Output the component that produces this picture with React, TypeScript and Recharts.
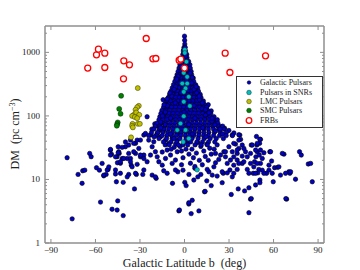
import React from 'react';
import { ScatterChart, Scatter, XAxis, YAxis, Legend, Label } from 'recharts';

// ---- data ----

const X_TICKS = [-90, -60, -30, 0, 30, 60, 90];
const Y_TICKS = [1, 10, 100, 1000];
const Y_MINOR = [2, 3, 4, 5, 6, 7, 8, 9, 20, 30, 40, 50, 60, 70, 80, 90, 200, 300, 400, 500, 600, 700, 800, 900, 2000];

// dense cone of pulsars around the plane: [dm, latitudes at that dm]
const CONE_ROWS: [number, number[]][] = [
  [1800, [0]],
  [1550, [0.1]],
  [1350, [0.2]],
  [1200, [-0.3, 0.5]],
  [1050, [-0.8, 0.7]],
  [930, [-1.1, 0.3, 1.5]],
  [820, [-1.7, 0, 1.7]],
  [720, [-2.5, -0.7, 1.1, 2.8]],
  [640, [-3.1, -1.3, 0.5, 2.3, 3.6]],
  [565, [-3.7, -1.8, 0.2, 2.1, 3.9]],
  [500, [-4.3, -2.4, -0.5, 1.4, 3.2, 4.5]],
  [445, [-5, -3, -1, 0.9, 2.8, 4.8]],
  [395, [-5.8, -3.7, -1.7, 0.3, 2.3, 4.2, 5.9]],
  [350, [-6.5, -4.3, -2.1, 0, 2.1, 4.1, 6.2]],
  [310, [-7.4, -5.1, -2.8, -0.6, 1.5, 3.6, 5.6, 7.5]],
  [275, [-8.3, -5.9, -3.5, -1.2, 1, 3.2, 5.4, 7.6, 8.9]],
  [245, [-9.1, -6.8, -4.4, -2, 0.4, 2.7, 5, 7.3, 9.4]],
  [218, [-10, -7.6, -5.1, -2.7, -0.2, 2.2, 4.6, 7, 9.3, 10.6]],
  [195, [-10.9, -8.4, -5.9, -3.4, -1, 1.5, 4, 6.4, 8.8, 11.1]],
  [172, [-12, -9.4, -6.8, -4.2, -1.7, 0.8, 3.3, 5.8, 8.3, 10.8, 12.7]],
  [153, [-13.1, -10.4, -7.7, -5, -2.4, 0.2, 2.8, 5.4, 8, 10.6, 13.3]],
  [137, [-14.1, -11.4, -8.7, -6, -3.2, -0.5, 2.2, 4.9, 7.6, 10.3, 13, 15]],
  [122, [-15.2, -12.4, -9.6, -6.8, -4, -1.2, 1.6, 4.4, 7.2, 10, 12.8, 15.6]],
  [109, [-15.9, -13.1, -10.3, -7.5, -4.7, -1.9, 1, 3.8, 6.6, 9.4, 12.2, 15, 17.7]],
  [97, [-16.6, -13.8, -11, -8.2, -5.4, -2.6, 0.3, 3.1, 5.9, 8.7, 11.5, 14.3, 17.1, 19.9]],
  [87, [-17.2, -14.3, -11.5, -8.7, -5.9, -3.1, -0.2, 2.6, 5.4, 8.2, 11, 13.8, 16.6, 19.4, 22.1]],
  [77, [-18.6, -15.5, -12.5, -9.6, -6.7, -3.8, -0.9, 2.1, 5, 7.9, 10.8, 13.7, 16.6, 19.5, 22.5]],
  [69, [-19.8, -16.5, -13.3, -10.1, -7.1, -4.1, -1.3, 1.6, 4.5, 7.4, 10.3, 13.2, 16.1, 19.1, 22.6, 25.7]],
  [62, [-20.6, -17.1, -13.9, -10.7, -7.7, -4.7, -1.8, 1.2, 4.1, 7.1, 10.1, 13.1, 16.1, 19.5, 23.1, 26.6]],
  [55, [-22.2, -18.1, -14.6, -11.3, -8.1, -5.1, -2.2, 0.8, 3.7, 6.7, 9.9, 13.1, 16.4, 20.1, 24.1, 28.2]],
  [49, [-24.2, -19.2, -15.1, -11.9, -8.7, -5.6, -2.6, 0.5, 3.4, 6.3, 9.6, 12.8, 16.1, 19.6, 23.6, 28.1, 32.3]],
  [44, [-17.2, -12.1, -7.1, -3.1, 1.1, 5.1, 9.2, 13.2, 17.3, 21.4, 26.2]],
  [39, [-14.2, -9.1, -5.2, 0.1, 4.2, 8.3, 12.1, 16.2, 20.4]],
  [35, [-10.3, -4.1, 2.2, 7.1, 11.3, 15.4]],
];

// extra pulsars filling gaps inside the cone: [b, dm]
const CONE_FILL: [number, number][] = [
  [-0.4, 1120], [0.9, 870], [-0.9, 770], [2, 680], [-2.2, 600], [1.1, 530], [-1.3, 470], [3.8, 470],
  [-4.4, 420], [1.5, 370], [-3, 330], [4.9, 330], [-6, 290], [0.3, 290], [6.5, 260], [-2.4, 230],
  [8.3, 230], [-8.6, 205], [3, 205], [10.2, 180], [-6.3, 160], [-11.5, 145], [6.4, 145], [11.8, 130],
  [-12.9, 115], [-0.3, 115], [14.2, 103], [-9.4, 92], [7, 92], [18.5, 82], [-13, 73], [2.8, 73],
  [-16, 65], [12.3, 65], [21, 58], [-9.5, 52], [5.2, 52], [25.5, 52], [-20.5, 47], [14.5, 47],
  [-5.2, 380], [5.3, 400], [-7, 260], [7.9, 290], [-9.8, 230], [9.9, 205], [-11.6, 185], [12, 160],
  [-13.8, 150], [14.2, 125], [16.5, 112], [-14.9, 100], [18.6, 92], [-16, 80], [20.5, 72], [24, 62],
];

// scattered galactic pulsars: [b, dm]
const FIELD_PULSARS: [number, number][] = [
  [-79.1, 22], [-75.7, 2.4], [-71.7, 12], [-68.6, 13.7], [-67.2, 14], [-69, 8.7], [-63.9, 25.7], [-62.9, 22.8],
  [-59.3, 15.3], [-57.3, 14], [-54.4, 11.4], [-52.8, 12], [-51.5, 14.4], [-49.9, 29], [-49.2, 25], [-56.6, 4.4],
  [-48.8, 3.4], [-45.4, 3.3], [-45, 4.6], [-41.3, 2.7], [-45.9, 9.2], [-41.3, 9], [-46.5, 12.2], [-45.2, 18.3],
  [-43.2, 18], [-42, 21.4], [-45.4, 22.8], [-44, 25.7], [-44.7, 32.7], [-33.7, 7.1], [-37.6, 12], [-32.4, 12],
  [-28.1, 12], [-35.9, 16.8], [-31.9, 17.3], [-29.7, 22.7], [-27.4, 24.2], [-33, 25.7], [-38.6, 21.4], [-36.4, 21.4],
  [-19.1, 10.4], [-14, 13.7], [-11.7, 12.5], [-8.1, 8.7], [-4.5, 13.2], [-3.8, 3.2], [2.9, 4.1], [5.2, 4.7],
  [9.7, 3.2], [6.3, 9.8], [0.2, 9], [1.1, 8], [4.5, 2.9], [13.5, 6.4], [25.4, 8.9], [31.5, 5.8], [36.2, 7.1],
  [40.5, 6.6], [43.4, 7.4], [44.5, 4.9], [47.9, 8.2], [50.8, 9.8], [50.8, 8.9], [43.4, 3.0], [68.8, 4.9],
  [74.8, 10.1], [86.1, 9.2], [77.5, 27.3], [78.7, 24.2], [83.4, 17.5], [85, 17.9], [67, 25], [70.3, 13.2],
  [71, 12.5], [60.7, 15.3], [62.7, 15.5], [59.8, 9.2], [55.3, 12.5], [56.9, 14], [58.7, 19.5], [51.2, 42.7],
  [50.6, 37], [48.8, 34.8], [45, 34.8], [49, 27.3], [51.2, 29], [48.1, 22.7], [50.4, 24.2], [53.5, 26.3],
  [57.5, 27.3], [47.2, 19], [51.2, 17.9], [44.5, 17.9], [50.1, 14.4], [49.4, 12.7], [53.5, 12.5], [46.3, 12.5],
  [37.3, 49.9], [37.8, 42.7], [38.9, 34.8], [34.4, 36], [36.6, 30.8], [41.1, 27.3], [35.5, 25.7], [38.9, 23.3],
  [33.2, 22.7], [35.5, 20.2], [38.9, 17.9], [33.2, 16.8], [35.5, 14.4], [30.6, 14.1], [28.8, 17.9], [31, 20.2],
  [27.6, 22.7], [26.5, 27.3], [24.3, 24.2], [23.1, 20.7], [20.9, 18.3], [19.8, 15.8], [26.1, 12.5], [28.8, 12.7],
  [32.2, 11], [22, 11.3], [18.7, 11.7], [16.4, 13.2], [32.2, 50], [36.6, 41.6], [33.2, 37], [29.9, 32.7],
  [40, 30.8], [35.5, 29], [32.2, 27.3], [27.6, 27.3], [20.9, 25.7], [15.3, 14.4], [25.4, 13.2], [33.2, 12.5],
  [36.6, 17.9], [40, 19], [42.3, 22.7], [44.5, 25.7], [45.7, 34.8], [49, 37], [47.9, 29], [52.4, 21.4],
  [49, 17.9], [46.7, 15.8], [42.3, 14.4], [43.4, 12.5], [47.9, 12.5], [52.4, 14], [56.9, 16.8], [58, 27.3],
  [63.6, 15.8], [65.9, 25.7], [64.7, 11.7], [59.1, 12.5], [68.1, 12.5], [71.5, 13.2], [36.6, 50.5], [50.8, 43],
  [48.5, 47.5], [-55.5, 17.9], [-52.1, 14.1], [-54.4, 11.7], [-51, 15.8], [-49.9, 24.2], [-46.5, 22.7],
  [-44.3, 27.3], [-43.2, 19], [-40.9, 21.4], [-39.8, 32.7], [-37.6, 34.8], [-37.6, 25.7], [-36.4, 19],
  [-35.3, 15.8], [-34.2, 27.3], [-33, 37], [-31.9, 41.6], [-30.8, 30.8], [-29.7, 24.2], [-27.4, 21.4],
  [-25.2, 19], [-27.4, 14.1], [-22.9, 24.2], [-21.8, 32.7], [-20.7, 39.2], [-24.1, 41.6], [-19.6, 27.3],
  [-18.4, 22.7], [-17.3, 19], [-15, 16.8], [-12.8, 21.4], [-11.7, 29], [-10.6, 37], [-9.4, 24.2], [-8.3, 17.9],
  [-6.1, 20.2], [-4.9, 27.3], [-29.7, 41.6], [-27.4, 50], [-26.3, 53], [-22.9, 50], [-18.4, 53], [-16.2, 47],
  [-14, 60], [-12.8, 41.6], [-8.3, 44], [-4.9, 41.6], [-3.8, 53], [-21.8, 11.7], [-19.6, 11], [-6.1, 14.1],
  [-33, 12.5], [-38.6, 11], [-46.5, 14.1], [-43.2, 12.5], [-49.9, 29.7], [-44.7, 26.3], [-42, 32], [-39.8, 39],
  [-36.4, 41.6], [-34.2, 37], [-25.2, 97], [5, 30], [8, 26], [11, 33], [13, 28], [15, 36], [17, 31], [9, 38],
  [6, 22], [10, 20], [14, 23], [18, 25], [12, 17], [4, 18], [7, 15], [16, 20], [20, 30], [22, 35], [3, 25],
  [1, 30], [-1, 22], [-3, 33], [2, 38], [-2, 28], [-2, 17], [-7, 32], [-9, 30], [-13, 35], [-15, 27], [-6, 36],
  [-1, 35], [7, 16], [11, 12], [3, 12], [-1, 14], [9, 11], [15, 9.5], [18, 8], [-3.4, 3.3], [2.9, 4.3],
  [13.9, 6.5], [45, 5], [68.3, 5], [-18.4, 70], [-16.6, 60], [-14.4, 180], [-20, 75], [-22, 62], [24.3, 68],
  [29.9, 59], [33.3, 54], [27, 64], [21, 85], [18, 120], [16, 150],
];

const SNR_PULSARS: [number, number][] = [
  [0.2, 1100], [0.2, 982], [1.3, 710], [-0.5, 476], [1.8, 412], [-1.5, 324], [0.7, 271], [1.8, 324], [-0.5, 239],
  [2.9, 200], [-0.5, 167], [3.6, 143], [-0.5, 99], [-2.7, 76], [-4.9, 60], [0.7, 60], [2.9, 44], [-0.9, 39],
  [8.5, 14.2],
];

const LMC_PULSARS: [number, number][] = [
  [-31.5, 274], [-30.8, 144], [-31.9, 137], [-33, 125], [-34.2, 104], [-35.3, 100], [-32.5, 113], [-30.5, 104],
  [-33.5, 96], [-31.9, 92], [-35, 75], [-35.3, 70], [-34.8, 66], [-31.5, 75], [-30.1, 75], [-36, 46],
];

const SMC_PULSARS: [number, number][] = [
  [-42.7, 207], [-44, 129], [-43.1, 108], [-45, 79], [-45.4, 74], [-45.6, 70],
];

const FRBS: [number, number][] = [
  [-65.2, 565], [-59.3, 915], [-58, 1122], [-53.7, 971], [-53.7, 578], [-40.9, 736], [-37.1, 637], [-41.1, 384],
  [-25.8, 1652], [-21.3, 791], [-19.3, 801], [-3.6, 754], [-2.5, 782], [0, 565], [27.4, 971], [30.6, 482],
  [54.6, 882],
];

// ---- helpers ----

const toPoints = (list: [number, number][]) => list.map(([b, dm]) => ({ b, dm }));

const galactic = [
  ...toPoints(FIELD_PULSARS),
  ...CONE_ROWS.flatMap(([dm, bs]) => bs.map((b) => ({ b, dm }))),
  ...toPoints(CONE_FILL),
];

const AXIS_GRAY = '#8f8f8f';
const SERIF = '"Liberation Serif", "DejaVu Serif", serif';

const fmt = (v: number) => (v < 0 ? `\u2212${-v}` : `${v}`);

const dot = (r: number, fill: string, stroke: string, sw: number) => (p: any) =>
  <circle cx={p.cx} cy={p.cy} r={r} fill={fill} stroke={stroke} strokeWidth={sw} />;

function BottomTick({ x, y, payload }: any) {
  return (
    <g>
      <line x1={x} x2={x} y1={y} y2={y - 4} stroke={AXIS_GRAY} />
      <text x={x} y={y + 9.5} textAnchor="middle" fontSize={9} fill="#222" fontFamily={SERIF}>
        {fmt(payload.value)}
      </text>
    </g>
  );
}

function TopTick({ x, y }: any) {
  return <line x1={x} x2={x} y1={y} y2={y + 4} stroke={AXIS_GRAY} />;
}

function LeftTick({ x, y, payload }: any) {
  const major = Y_TICKS.includes(payload.value);
  const ax = x + 5;
  return (
    <g>
      <line x1={ax} x2={ax + (major ? 4 : 2)} y1={y} y2={y} stroke={AXIS_GRAY} />
      {major && (
        <text x={x} y={y + 3} textAnchor="end" fontSize={9} fill="#222" fontFamily={SERIF}>
          {payload.value}
        </text>
      )}
    </g>
  );
}

function RightTick({ x, y, payload }: any) {
  const major = Y_TICKS.includes(payload.value);
  return <line x1={x} x2={x - (major ? 4 : 2)} y1={y} y2={y} stroke={AXIS_GRAY} />;
}

const LEGEND_ITEMS = [
  { label: 'Galactic Pulsars', r: 1.8, fill: '#0000c8', stroke: '#000000' },
  { label: 'Pulsars in SNRs', r: 2.3, fill: '#00bfbf', stroke: '#003333' },
  { label: 'LMC Pulsars', r: 2.3, fill: '#bfbf00', stroke: '#333300' },
  { label: 'SMC Pulsars', r: 2.3, fill: '#008000', stroke: '#002200' },
  { label: 'FRBs', r: 2.8, fill: '#fff', stroke: '#ff0000' },
];

function LegendBox() {
  return (
    <div
      style={{
        width: 87,
        height: 52,
        boxSizing: 'border-box',
        border: '1px solid #333',
        background: '#fff',
        paddingTop: 1,
        fontFamily: SERIF,
        fontSize: 8,
        color: '#222',
      }}
    >
      {LEGEND_ITEMS.map((it) => (
        <div key={it.label} style={{ display: 'flex', alignItems: 'center', height: 9.4 }}>
          <svg width={23} height={9} style={{ flex: 'none' }}>
            <circle cx={12} cy={4.5} r={it.r} fill={it.fill} stroke={it.stroke} strokeWidth={it.label === 'FRBs' ? 1.3 : 0.5} />
          </svg>
          <span style={{ whiteSpace: 'nowrap', lineHeight: '9px' }}>{it.label}</span>
        </div>
      ))}
    </div>
  );
}

export default function App() {
  return (
    <div style={{ position: 'absolute', left: 0, top: 0, width: 360, height: 270, background: '#fff' }}>
      <ScatterChart width={360} height={270} margin={{ top: 25, right: 35, bottom: 0, left: 0 }}>
        <XAxis
          xAxisId="b"
          type="number"
          dataKey="b"
          domain={[-94, 94]}
          ticks={X_TICKS}
          interval={0}
          allowDataOverflow
          height={27}
          axisLine={{ stroke: AXIS_GRAY, strokeWidth: 1.5 }}
          tickLine={false}
          tickSize={0}
          tickMargin={0}
          tick={(p: any) => <BottomTick {...p} />}
        >
          <Label
            content={() => (
              <text x={184.5} y={267} textAnchor="middle" fontSize={12} fill="#222" fontFamily={SERIF}>
                Galactic Latitude b{'\u00a0\u00a0'}(deg)
              </text>
            )}
          />
        </XAxis>
        <XAxis
          xAxisId="top"
          orientation="top"
          type="number"
          dataKey="b"
          domain={[-94, 94]}
          ticks={X_TICKS}
          interval={0}
          allowDataOverflow
          height={1}
          axisLine={{ stroke: AXIS_GRAY, strokeWidth: 1.5 }}
          tickLine={false}
          tickSize={0}
          tickMargin={0}
          tick={(p: any) => <TopTick {...p} />}
        />
        <YAxis
          yAxisId="dm"
          type="number"
          dataKey="dm"
          scale="log"
          domain={[1, 2600]}
          ticks={[...Y_TICKS, ...Y_MINOR].sort((a, b) => a - b)}
          interval={0}
          allowDataOverflow
          width={45}
          axisLine={{ stroke: AXIS_GRAY, strokeWidth: 1.5 }}
          tickLine={false}
          tickSize={0}
          tickMargin={5}
          tick={(p: any) => <LeftTick {...p} />}
        >
          <Label
            content={() => (
              <text transform="translate(19,134) rotate(-90)" textAnchor="middle" fontSize={12} fill="#222" fontFamily={SERIF}>
                DM{'\u00a0\u00a0'}(pc cm
                <tspan dy={-4} fontSize={8}>{'\u22123'}</tspan>
                <tspan dy={4}>)</tspan>
              </text>
            )}
          />
        </YAxis>
        <YAxis
          yAxisId="right"
          orientation="right"
          type="number"
          dataKey="dm"
          scale="log"
          domain={[1, 2600]}
          ticks={[...Y_TICKS, ...Y_MINOR].sort((a, b) => a - b)}
          interval={0}
          allowDataOverflow
          width={1}
          axisLine={{ stroke: AXIS_GRAY, strokeWidth: 1.5 }}
          tickLine={false}
          tickSize={0}
          tickMargin={0}
          tick={(p: any) => <RightTick {...p} />}
        />
        <Scatter
          name="Galactic Pulsars"
          xAxisId="b"
          yAxisId="dm"
          data={galactic}
          shape={dot(2.2, '#0000c8', '#000000', 0.6)}
          isAnimationActive={false}
        />
        <Scatter
          name="Pulsars in SNRs"
          xAxisId="b"
          yAxisId="dm"
          data={toPoints(SNR_PULSARS)}
          shape={dot(2.3, '#00bfbf', '#003333', 0.5)}
          isAnimationActive={false}
        />
        <Scatter
          name="LMC Pulsars"
          xAxisId="b"
          yAxisId="dm"
          data={toPoints(LMC_PULSARS)}
          shape={dot(2.5, '#bfbf00', '#333300', 0.5)}
          isAnimationActive={false}
        />
        <Scatter
          name="SMC Pulsars"
          xAxisId="b"
          yAxisId="dm"
          data={toPoints(SMC_PULSARS)}
          shape={dot(2.5, '#008000', '#002200', 0.5)}
          isAnimationActive={false}
        />
        <Scatter
          name="FRBs"
          xAxisId="top"
          yAxisId="right"
          data={toPoints(FRBS)}
          shape={dot(3, '#ffffff', '#ff0000', 1.3)}
          isAnimationActive={false}
        />
        <Legend
          layout="vertical"
          align="center"
          verticalAlign="middle"
          content={() => <LegendBox />}
          wrapperStyle={{ position: 'absolute', left: 236, top: 76, width: 87, height: 52 }}
        />
      </ScatterChart>
    </div>
  );
}
